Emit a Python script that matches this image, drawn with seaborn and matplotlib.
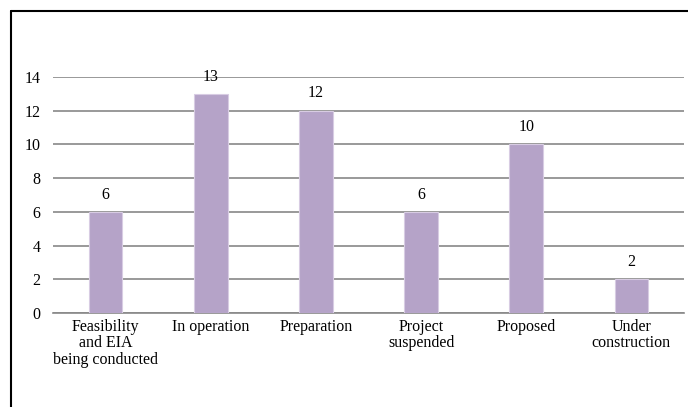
import matplotlib
matplotlib.use("Agg")
import matplotlib.pyplot as plt
import seaborn as sns
import pandas as pd

categories = ["Feasibility\nand EIA\nbeing conducted", "In operation", "Preparation",
              "Project\nsuspended", "Proposed", "Under\nconstruction"]
values = [6, 13, 12, 6, 10, 2]
yticks = [0, 2, 4, 6, 8, 10, 12, 14]

sns.set_theme(style="white")
plt.rcParams['font.family'] = ['Liberation Serif', 'DejaVu Serif']

df = pd.DataFrame({"cat": categories, "val": values})

fig = plt.figure(figsize=(6.88, 4.07), dpi=100)
ax = fig.add_axes([53/688, 1 - 313/407, 631/688, (313 - 77) / 407])

sns.barplot(data=df, x="cat", y="val", color="#B5A3C8", width=0.32,
            saturation=1, ax=ax, zorder=3, edgecolor="#D8CCE3", linewidth=0.8)

ax.set_ylim(0, 14)
ax.set_yticks(yticks)
ax.set_xlim(-0.5, len(categories) - 0.5)
ax.yaxis.grid(True, color="#888888", linewidth=1.2, zorder=0)
ax.set_axisbelow(True)
for s in ["top", "right", "left"]:
    ax.spines[s].set_visible(False)
ax.spines["bottom"].set_color("#888888")
ax.spines["bottom"].set_linewidth(1.2)
ax.set_xlabel("")
ax.set_ylabel("")
ax.tick_params(axis="both", length=0, labelsize=11.5, colors="black")
ax.tick_params(axis="y", pad=9)
ax.tick_params(axis="x", pad=4)
for lbl in ax.get_xticklabels():
    lbl.set_linespacing(1.05)

for i, v in enumerate(values):
    ax.text(i, v + 0.55, str(v), ha="center", va="bottom", fontsize=11.5, color="black", zorder=4)

# frame lines (left & top)
fig.add_artist(plt.Line2D([11/688, 11/688], [0, 1 - 11/407], color="black", linewidth=1.5, transform=fig.transFigure))
fig.add_artist(plt.Line2D([11/688, 1], [1 - 11/407, 1 - 11/407], color="black", linewidth=1.5, transform=fig.transFigure))

fig.savefig("out.png", dpi=100)
